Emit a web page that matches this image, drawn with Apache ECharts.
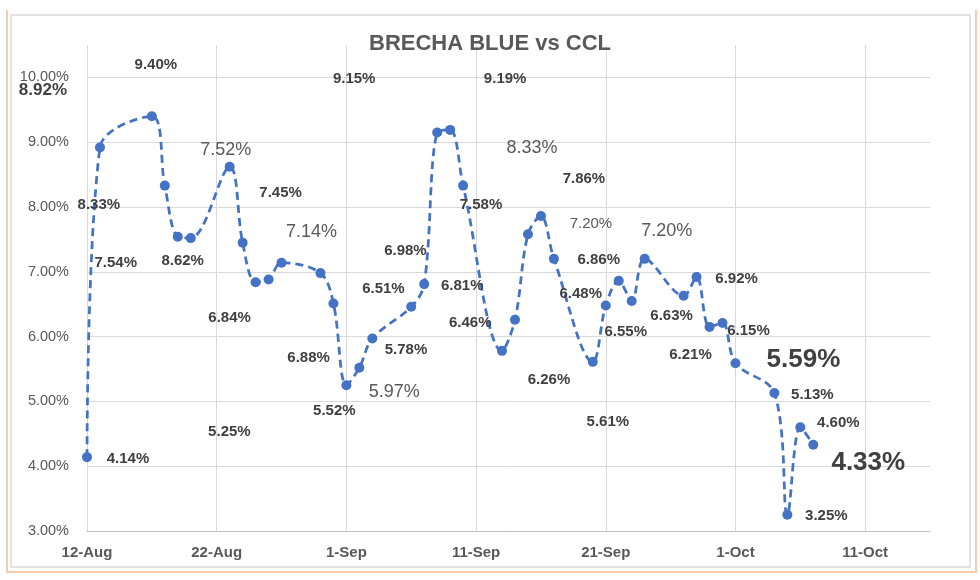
<!DOCTYPE html>
<html><head><meta charset="utf-8">
<script src="https://cdn.jsdelivr.net/npm/echarts@6/dist/echarts.min.js"></script>
<style>html,body{margin:0;padding:0;background:#fff}#c{width:980px;height:580px}</style>
</head><body><div id="c"></div>
<script>
// ---- data ----
const startDate = '2021-08-12';
const dates = ['2021-08-12','2021-08-13','2021-08-17','2021-08-18','2021-08-19','2021-08-20',
  '2021-08-23','2021-08-24','2021-08-25','2021-08-26','2021-08-27','2021-08-30','2021-08-31',
  '2021-09-01','2021-09-02','2021-09-03','2021-09-06','2021-09-07','2021-09-08','2021-09-09',
  '2021-09-10','2021-09-13','2021-09-14','2021-09-15','2021-09-16','2021-09-17','2021-09-20',
  '2021-09-21','2021-09-22','2021-09-23','2021-09-24','2021-09-27','2021-09-28','2021-09-29',
  '2021-09-30','2021-10-01','2021-10-04','2021-10-05','2021-10-06','2021-10-07'];
const brecha = [4.14,8.92,9.40,8.33,7.54,7.52,8.62,7.45,6.84,6.88,7.14,6.98,6.51,5.25,5.52,5.97,
  6.46,6.81,9.15,9.19,8.33,5.78,6.26,7.58,7.86,7.20,5.61,6.48,6.86,6.55,7.20,6.63,6.92,6.15,6.21,
  5.59,5.13,3.25,4.60,4.33];
const xTickLabels = ['12-Aug','22-Aug','1-Sep','11-Sep','21-Sep','1-Oct','11-Oct'];
const yTickLabels = ['3.00%','4.00%','5.00%','6.00%','7.00%','8.00%','9.00%','10.00%'];
const titleText = 'BRECHA BLUE vs CCL';

// ---- layout (label placement, as dragged in the original) ----
const labelOffsets = [[41,2],[-57,-57],[4,-51],[-66,19],[-62,26],[35,-88],[-47,94],[38,-50],
  [-26,36],[40,78],[30,-31],[85,-22],[50,-15],[-117,47],[-25,43],[22,53],[59,16],[38,2],
  [-83,-54],[55,-51],[69,-38],[-96,-1],[34,60],[-47,-29],[43,-37],[37,-35],[15,60],[-25,-12],
  [-20,-21],[-6,31],[22,-28],[-12,20],[40,2],[39,4],[-32,32],[68,-3],[38,2],[39,1],[38,-4],[55,18]];
const labelStyleOverrides = {
  1: {fontSize: 17, fontWeight: 'bold'},
  5: {fontSize: 18, fontWeight: 'normal', color: '#595959'},
  10: {fontSize: 18, fontWeight: 'normal', color: '#595959'},
  15: {fontSize: 18, fontWeight: 'normal', color: '#595959'},
  20: {fontSize: 18, fontWeight: 'normal', color: '#595959'},
  25: {fontSize: 15, fontWeight: 'normal', color: '#595959'},
  30: {fontSize: 18, fontWeight: 'normal', color: '#595959'},
  35: {fontSize: 26, fontWeight: 'bold'},
  39: {fontSize: 26, fontWeight: 'bold'}
};

const DAY = 86400000;
const t0 = Date.parse(startDate + 'T00:00:00Z');
const dayIndex = d => Math.round((Date.parse(d + 'T00:00:00Z') - t0) / DAY);

const seriesData = dates.map((d, i) => {
  const item = { value: [dayIndex(d), brecha[i]], label: { offset: labelOffsets[i] } };
  if (labelStyleOverrides[i]) Object.assign(item.label, labelStyleOverrides[i]);
  return item;
});

const FONT = '"Liberation Sans", Arial, sans-serif';
const chart = echarts.init(document.getElementById('c'), null, {renderer: 'canvas'});
chart.setOption({
  animation: false,
  backgroundColor: '#ffffff',
  title: {
    text: titleText, left: 'center', top: 28,
    textStyle: {fontFamily: FONT, fontSize: 22, fontWeight: 'bold', color: '#595959'}
  },
  graphic: [
    {type: 'rect', shape: {x: 11, y: 15, width: 959, height: 552}, style: {fill: 'none', stroke: '#d9d9d9', lineWidth: 1.5}, z: -1},
    {type: 'polyline', shape: {points: [[7, 10], [7, 572], [976, 572], [976, 10]]}, style: {fill: 'none', stroke: '#f8cbad', lineWidth: 2}, z: -1}
  ],
  grid: {left: 87, right: 50, top: 45, bottom: 49},
  xAxis: {
    type: 'value', min: 0, max: 65, interval: 10,
    axisLine: {show: true, lineStyle: {color: '#bfbfbf', width: 1}},
    axisTick: {show: false},
    splitLine: {show: true, showMaxLine: false, lineStyle: {color: '#d9d9d9', width: 1}},
    axisLabel: {
      showMaxLabel: false, margin: 14,
      fontFamily: FONT, fontSize: 15, fontWeight: 'bold', color: '#595959',
      formatter: v => xTickLabels[Math.round(v / 10)] || ''
    }
  },
  yAxis: {
    type: 'value', min: 3, max: 10.5, interval: 1,
    axisLine: {show: false}, axisTick: {show: false},
    splitLine: {show: true, showMaxLine: false, lineStyle: {color: '#d9d9d9', width: 1}},
    axisLabel: {
      showMaxLabel: false, margin: 18,
      fontFamily: FONT, fontSize: 14.5, color: '#595959',
      formatter: v => yTickLabels[Math.round(v - 3)] || ''
    }
  },
  series: [{
    type: 'line',
    data: seriesData,
    smooth: 0.35,
    symbol: 'circle', symbolSize: 10,
    itemStyle: {color: '#4472C4'},
    lineStyle: {color: '#4472C4', width: 2.75, type: [8, 5]},
    clip: false,
    label: {
      show: true, position: 'inside',
      fontFamily: FONT, fontSize: 15, fontWeight: 'bold', color: '#404040',
      formatter: p => p.value[1].toFixed(2) + '%'
    },
    z: 3
  }]
});
</script></body></html>
